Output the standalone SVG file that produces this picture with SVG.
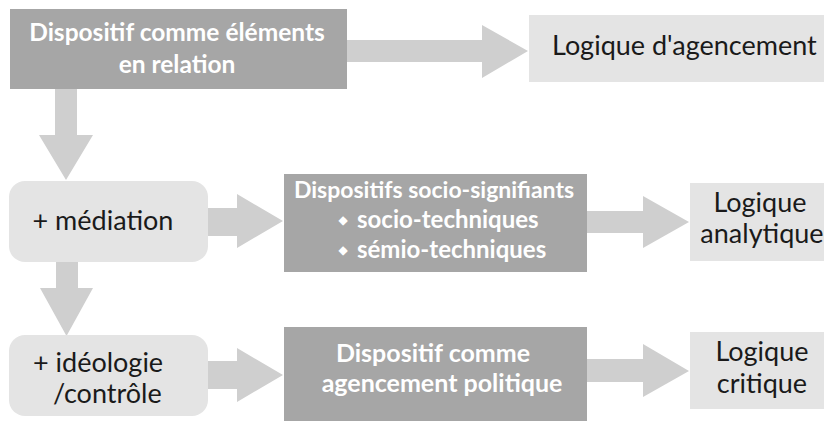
<svg xmlns="http://www.w3.org/2000/svg" width="824" height="421" viewBox="0 0 824 421">
<style>
.dark{fill:#a6a6a6}
.light{fill:#e4e4e4}
.arrow{fill:#cfcfcf}
.tb{font-family:Lato,"Liberation Sans",sans-serif;font-weight:bold;fill:#ffffff}
.tr{font-family:Lato,"Liberation Sans",sans-serif;fill:#1a1a1a;font-size:27px}
.bul{font-family:"DejaVu Sans",sans-serif;font-size:12px;fill:#ffffff}
</style>
<rect width="824" height="421" fill="#ffffff"/>
<g id="connectors">
<polygon class="arrow" points="347,40 482,40 482,25 528,51 482,78 482,62 347,62"/>
<polygon class="arrow" points="55,89 77,89 77,135 93,135 66,180 39,135 55,135"/>
<polygon class="arrow" points="56,262 78,262 78,288 93,288 66.5,336 40,288 56,288"/>
<polygon class="arrow" points="208,208 237,208 237,194 283,221 237,248 237,236 208,236"/>
<polygon class="arrow" points="208,361 237,361 237,348 283,375 237,402 237,389 208,389"/>
<polygon class="arrow" points="587,211 643,211 643,196 689,222 643,248 643,233 587,233"/>
<polygon class="arrow" points="587,359 643,359 643,344 689,371 643,397 643,382 587,382"/>
</g>
<g id="node-dispositif-elements">
<rect class="dark" x="10" y="9" width="337" height="80"/>
<text class="tb" font-size="24.5" text-anchor="middle" x="177" y="41">Dispositif comme éléments</text>
<text class="tb" font-size="24.5" text-anchor="middle" x="177" y="73">en relation</text>
</g>
<g id="node-logique-agencement">
<rect class="light" x="529" y="15" width="300" height="67"/>
<text class="tr" x="552" y="55">Logique d'agencement</text>
</g>
<g id="node-mediation">
<rect class="light" x="9" y="181" width="199" height="81" rx="16"/>
<text class="tr" text-anchor="middle" x="103" y="230">+ médiation</text>
</g>
<g id="node-socio-signifiants">
<rect class="dark" x="284" y="174" width="303" height="98"/>
<text class="tb" font-size="23" text-anchor="middle" x="434" y="198">Dispositifs socio-signifiants</text>
<text class="bul" text-anchor="middle" x="343" y="224">◆</text>
<text class="tb" font-size="24" x="357" y="228">socio-techniques</text>
<text class="bul" text-anchor="middle" x="343" y="254">◆</text>
<text class="tb" font-size="24" x="357" y="258">sémio-techniques</text>
</g>
<g id="node-logique-analytique">
<rect class="light" x="690" y="183" width="140" height="78"/>
<text class="tr" text-anchor="middle" x="760" y="212">Logique</text>
<text class="tr" text-anchor="middle" x="762" y="243">analytique</text>
</g>
<g id="node-ideologie">
<rect class="light" x="9" y="335" width="199" height="81" rx="16"/>
<text class="tr" x="33" y="372">+ idéologie</text>
<text class="tr" x="53" y="403">/contrôle</text>
</g>
<g id="node-agencement-politique">
<rect class="dark" x="284" y="327" width="303" height="94"/>
<text class="tb" font-size="25" text-anchor="middle" x="433" y="362">Dispositif comme</text>
<text class="tb" font-size="25" text-anchor="middle" x="442" y="392">agencement politique</text>
</g>
<g id="node-logique-critique">
<rect class="light" x="690" y="332" width="140" height="77"/>
<text class="tr" text-anchor="middle" x="762" y="361">Logique</text>
<text class="tr" text-anchor="middle" x="762" y="393">critique</text>
</g>
</svg>
